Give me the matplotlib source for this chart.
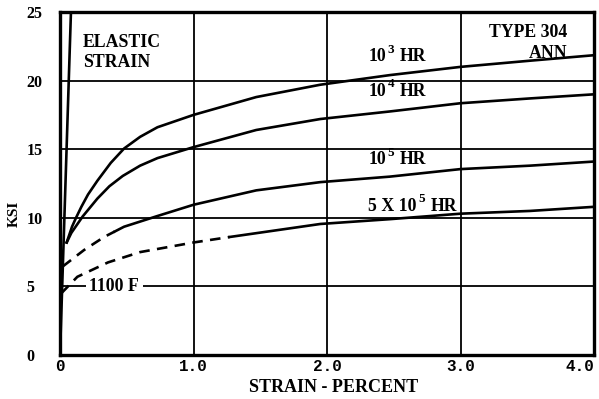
import matplotlib
matplotlib.use('Agg')
import matplotlib.pyplot as plt
from matplotlib.transforms import ScaledTranslation

# curve readings (strain %, ksi)
hr3_x = [0.05, 0.09, 0.12, 0.16, 0.21, 0.28, 0.38, 0.48, 0.6, 0.73, 1.0, 1.47, 1.95, 2.47, 3.0, 3.52, 4.0]
hr3_y = [8.2, 9.35, 10.0, 10.8, 11.7, 12.7, 14.0, 15.05, 15.9, 16.6, 17.5, 18.8, 19.7, 20.4, 21.0, 21.45, 21.85]

hr4_x = [0.05, 0.085, 0.17, 0.28, 0.37, 0.47, 0.6, 0.73, 1.0, 1.47, 1.95, 2.47, 3.0, 3.52, 4.0]
hr4_y = [8.2, 8.9, 10.1, 11.4, 12.3, 13.05, 13.8, 14.35, 15.15, 16.4, 17.2, 17.75, 18.35, 18.7, 19.0]

hr5_dash_x = [0.02, 0.18, 0.33, 0.41]
hr5_dash_y = [6.45, 7.65, 8.6, 9.0]
hr5_x = [0.41, 0.48, 0.72, 1.0, 1.47, 1.95, 2.47, 3.0, 3.52, 4.0]
hr5_y = [9.0, 9.35, 10.1, 10.95, 12.0, 12.6, 13.0, 13.55, 13.8, 14.1]

hr55_dash_x = [0.01, 0.13, 0.36, 0.6, 1.0, 1.27]
hr55_dash_y = [4.5, 5.7, 6.75, 7.5, 8.2, 8.6]
hr55_x = [1.27, 1.95, 2.47, 3.0, 3.52, 4.0]
hr55_y = [8.6, 9.55, 9.9, 10.3, 10.5, 10.8]

elastic_x = [0.0, 0.082]
elastic_y = [0.0, 25.0]

xticks = [0, 1, 2, 3, 4]
xlabels = ['0', '1.0', '2.0', '3.0', '4.0']
yticks = [0, 5, 10, 15, 20, 25]

font = 'Liberation Serif'

fig = plt.figure(figsize=(5.99, 3.99), dpi=100)
ax = fig.add_axes([60/599, 1-355/399, 534/599, 343/399])
ax.set_xlim(0, 4)
ax.set_ylim(0, 25)

# grid
for gx in [1, 2, 3]:
    ax.plot([gx, gx], [0, 25], color='black', lw=1.3)
for gy in [5, 10, 15, 20]:
    ax.plot([0, 4], [gy, gy], color='black', lw=1.3)

lw = 1.9
dash = (0, (4, 2.8))
ax.plot(elastic_x, elastic_y, color='black', lw=lw)
for xs, ys in [(hr3_x, hr3_y), (hr4_x, hr4_y), (hr5_x, hr5_y), (hr55_x, hr55_y)]:
    ax.plot(xs, ys, color='black', lw=lw, solid_joinstyle='round')
for xs, ys in [(hr5_dash_x, hr5_dash_y), (hr55_dash_x, hr55_dash_y)]:
    ax.plot(xs, ys, color='black', lw=lw, ls=dash)

for s in ax.spines.values():
    s.set_linewidth(2.4)

ax.set_xticks(xticks)
ax.set_xticklabels(xlabels, fontfamily='Liberation Mono', fontweight='bold', fontsize=11.5)
last = ax.get_xticklabels()[-1]
last.set_ha('right')
last.set_transform(last.get_transform() + ScaledTranslation(5/100, 0, fig.dpi_scale_trans))
ax.set_yticks(yticks)
ax.set_yticklabels([str(v) for v in yticks], fontfamily=font, fontweight='bold', fontsize=11.5)
for lbl in ax.get_yticklabels():
    lbl.set_ha('left')
ax.tick_params(axis='y', length=0, pad=24)
ax.tick_params(axis='x', length=0, pad=3)

fig.text(334/599, 1-388/399, 'STRAIN - PERCENT', ha='center', va='center',
         fontfamily=font, fontweight='bold', fontsize=13)
fig.text(14/599, 1-214/399, 'KSI', rotation=90, ha='center', va='center',
         fontfamily=font, fontweight='bold', fontsize=11)

tk = dict(fontfamily=font, fontweight='bold', fontsize=12.8)
ax.text(0.17, 22.8, 'ELASTIC', ha='left', va='center', **tk)
ax.text(0.17, 21.35, 'STRAIN', ha='left', va='center', **tk)
ax.text(3.80, 23.5, 'TYPE 304', ha='right', va='center', **tk)
ax.text(3.80, 22.0, 'ANN', ha='right', va='center', **tk)


def hr_label(x, y, base, sup):
    t = ax.text(x, y, base, ha='left', va='baseline', **tk)
    ax.annotate(sup, xy=(1, 0), xycoords=t, xytext=(1, 7), textcoords='offset points',
                ha='left', va='bottom', fontfamily=font, fontweight='bold', fontsize=9.5)
    ax.annotate('HR', xy=(1, 0), xycoords=t, xytext=(10, 0), textcoords='offset points',
                ha='left', va='bottom', **tk)


hr_label(2.31, 21.4, '10', '3')
hr_label(2.31, 18.9, '10', '4')
hr_label(2.31, 13.9, '10', '5')
hr_label(2.31, 10.5, '5 X 10', '5')

ax.text(0.22, 5.0, '1100 F', ha='left', va='center',
        bbox=dict(facecolor='white', edgecolor='none', pad=2.5), **tk)

fig.savefig('out.png', dpi=100)
